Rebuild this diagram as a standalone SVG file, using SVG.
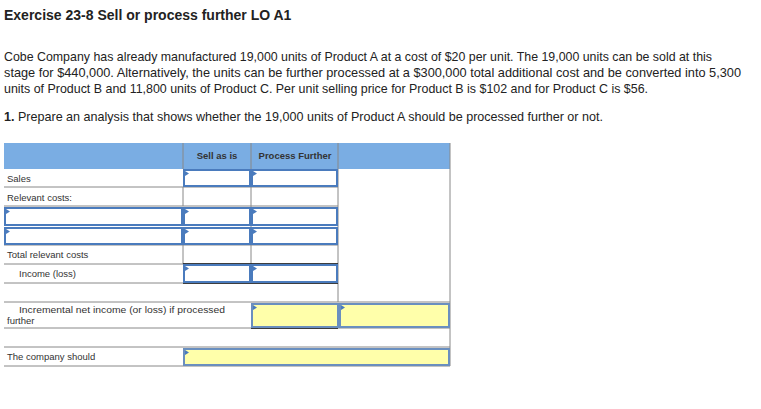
<svg xmlns="http://www.w3.org/2000/svg" width="761" height="409" viewBox="0 0 761 409">
<style>
text{font-family:"Liberation Sans",Arial,sans-serif;fill:#222}
.t{font-size:12.4px}
.s{font-size:9.5px;fill:#333}
.b{font-size:9.5px;font-weight:bold;fill:#333}
.g{stroke:#888;stroke-width:1;fill:none}
.in{fill:#fff;stroke:#4a7bbd;stroke-width:2}
.y{fill:#ffffaa;stroke:#6a8fbf;stroke-width:2}
.k{stroke:#111;stroke-width:1.5}
</style>
<defs><path id="m" d="M0,0 L4,2.5 L0,5 Z" fill="#4a7bbd"/></defs>
<rect width="761" height="409" fill="#fff"/>
<g id="text">
<text x="4" y="20" style="font-size:14px;font-weight:bold">Exercise 23-8 Sell or process further LO A1</text>
<text class="t" x="4" y="61" textLength="708" lengthAdjust="spacingAndGlyphs">Cobe Company has already manufactured 19,000 units of Product A at a cost of $20 per unit. The 19,000 units can be sold at this</text>
<text class="t" x="4" y="77" textLength="737" lengthAdjust="spacingAndGlyphs">stage for $440,000. Alternatively, the units can be further processed at a $300,000 total additional cost and be converted into 5,300</text>
<text class="t" x="4" y="93" textLength="644" lengthAdjust="spacingAndGlyphs">units of Product B and 11,800 units of Product C. Per unit selling price for Product B is $102 and for Product C is $56.</text>
<text class="t" x="4" y="121" textLength="599" lengthAdjust="spacingAndGlyphs"><tspan font-weight="bold">1.</tspan> Prepare an analysis that shows whether the 19,000 units of Product A should be processed further or not.</text>
</g>
<g id="table">
<rect x="4" y="143" width="446" height="26" fill="#7aade3"/>
<line class="g" x1="183" y1="143" x2="183" y2="169"/>
<line class="g" x1="251" y1="143" x2="251" y2="169"/>
<line class="g" x1="338" y1="143" x2="338" y2="302"/>
<line class="g" x1="450" y1="143" x2="450" y2="366"/>
<text class="b" x="217" y="159" text-anchor="middle">Sell as is</text>
<text class="b" x="295" y="159" text-anchor="middle">Process Further</text>
<g class="g">
<line x1="4" y1="187" x2="338" y2="187"/><line x1="4" y1="206" x2="338" y2="206"/>
<line x1="4" y1="245" x2="338" y2="245"/><line x1="4" y1="264" x2="338" y2="264"/>
<line x1="4" y1="283" x2="338" y2="283"/><line x1="4" y1="302" x2="450" y2="302"/>
<line x1="4" y1="328" x2="450" y2="328"/><line x1="4" y1="347" x2="450" y2="347"/>
<line x1="4" y1="366" x2="450" y2="366"/>
<line x1="183" y1="187" x2="183" y2="206"/><line x1="251" y1="169" x2="251" y2="283"/>
<line x1="183" y1="245" x2="183" y2="264"/>
</g>
<text class="s" x="7" y="182">Sales</text>
<text class="s" x="7" y="201">Relevant costs:</text>
<text class="s" x="7" y="258">Total relevant costs</text>
<text class="s" x="19" y="277">Income (loss)</text>
<text class="s" x="19" y="313" textLength="206" lengthAdjust="spacingAndGlyphs">Incremental net income (or loss) if processed</text>
<text class="s" x="7" y="324">further</text>
<text class="s" x="7" y="360">The company should</text>
<line class="k" x1="183" y1="264" x2="338" y2="264"/>
<line class="k" x1="183" y1="283" x2="338" y2="283"/>
<line class="k" x1="251" y1="328" x2="338" y2="328"/>
</g>
<g id="inputs">
<rect class="in" x="184" y="170" width="66" height="16"/><use href="#m" x="185" y="171"/>
<rect class="in" x="252" y="170" width="85" height="16"/><use href="#m" x="253" y="171"/>
<rect class="in" x="5" y="208" width="177" height="17"/><use href="#m" x="6" y="209"/>
<rect class="in" x="184" y="208" width="66" height="17"/><use href="#m" x="185" y="209"/>
<rect class="in" x="252" y="208" width="85" height="17"/><use href="#m" x="253" y="209"/>
<rect class="in" x="5" y="228" width="177" height="16"/><use href="#m" x="6" y="229"/>
<rect class="in" x="184" y="228" width="66" height="16"/><use href="#m" x="185" y="229"/>
<rect class="in" x="252" y="228" width="85" height="16"/><use href="#m" x="253" y="229"/>
<rect class="in" x="184" y="265" width="66" height="17"/><use href="#m" x="185" y="266"/>
<rect class="in" x="252" y="265" width="85" height="17"/><use href="#m" x="253" y="266"/>
<rect class="y" x="252" y="304" width="86" height="23"/><use href="#m" x="253" y="305"/>
<rect class="y" x="340" y="304" width="109" height="23"/><use href="#m" x="341" y="305"/>
<rect class="y" x="184" y="349" width="265" height="16"/><use href="#m" x="185" y="350"/>
</g>
</svg>
